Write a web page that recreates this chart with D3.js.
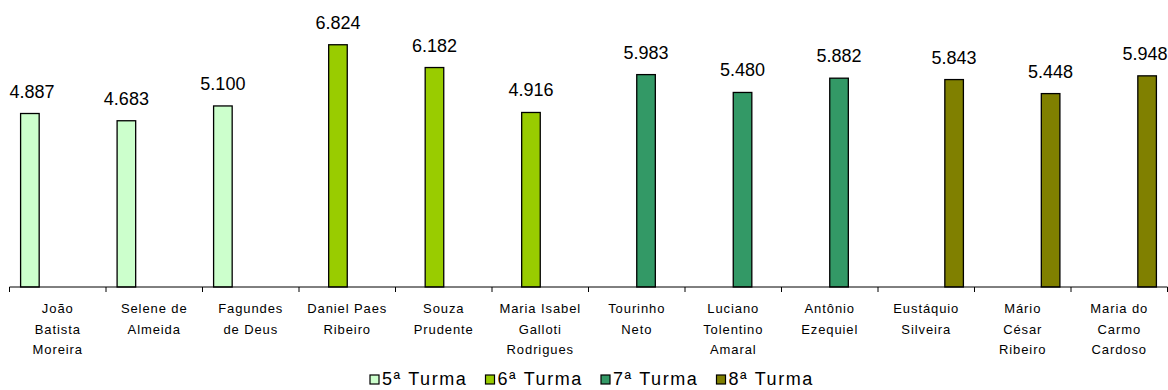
<!DOCTYPE html>
<html>
<head>
<meta charset="utf-8">
<script src="https://cdn.jsdelivr.net/npm/d3@7"></script>
<style>
  html, body { margin: 0; padding: 0; background: #fff; }
  svg { display: block; font-family: "Liberation Sans", Arial, sans-serif; }
</style>
</head>
<body>
<svg id="chart" width="1168" height="390"></svg>
<script>
// Juízes por turma
const categories = [
  ["João", "Batista", "Moreira"],
  ["Selene de", "Almeida"],
  ["Fagundes", "de Deus"],
  ["Daniel Paes", "Ribeiro"],
  ["Souza", "Prudente"],
  ["Maria Isabel", "Galloti", "Rodrigues"],
  ["Tourinho", "Neto"],
  ["Luciano", "Tolentino", "Amaral"],
  ["Antônio", "Ezequiel"],
  ["Eustáquio", "Silveira"],
  ["Mário", "César", "Ribeiro"],
  ["Maria do", "Carmo", "Cardoso"]
];
const series = ["5ª Turma", "6ª Turma", "7ª Turma", "8ª Turma"];
const seriesColors = ["#CCFFCC", "#99CC00", "#339966", "#808000"];
const turmaOf = ["5ª Turma", "5ª Turma", "5ª Turma", "6ª Turma", "6ª Turma", "6ª Turma",
                 "7ª Turma", "7ª Turma", "7ª Turma", "8ª Turma", "8ª Turma", "8ª Turma"];
const values = [4887, 4683, 5100, 6824, 6182, 4916, 5983, 5480, 5882, 5843, 5448, 5948];
const yDomain = [0, 7000];

const ptBR = d3.formatLocale({ decimal: ",", thousands: ".", grouping: [3], currency: ["R$", ""] });
const fmt = ptBR.format(",d");

const svg = d3.select("#chart");
const plot = { left: 9.5, right: 1167.5, top: 38.5, bottom: 287 };

const keys = categories.map(c => c.join(" "));
const x0 = d3.scaleBand().domain(keys).range([plot.left, plot.right]).padding(0);
const bw = x0.bandwidth();
const x1 = d3.scaleBand().domain(series).range([bw * 0.115, bw * 0.885]).padding(0);
const y = d3.scaleLinear().domain(yDomain).range([plot.bottom, plot.top]);
const color = d3.scaleOrdinal().domain(series).range(seriesColors);

const rows = keys.map((k, i) => ({ key: k, lines: categories[i], turma: turmaOf[i], value: values[i] }));

// Bars
svg.append("g").selectAll("rect").data(rows).join("rect")
  .attr("x", d => x0(d.key) + x1(d.turma))
  .attr("y", d => y(d.value))
  .attr("width", x1.bandwidth())
  .attr("height", d => y(0) - y(d.value))
  .attr("fill", d => color(d.turma))
  .attr("stroke", "#000")
  .attr("stroke-width", 1.3);

// Value labels, kept inside the plot area
const labels = svg.append("g")
  .attr("font-size", 18)
  .attr("fill", "#000");
labels.selectAll("text").data(rows).join("text")
  .attr("text-anchor", "middle")
  .attr("y", d => y(d.value) - 16)
  .text(d => fmt(d.value))
  .each(function(d) {
    const cx = x0(d.key) + x1(d.turma) + x1.bandwidth() / 2;
    const w = this.getComputedTextLength();
    let x = cx;
    if (x - w / 2 < plot.left) x = plot.left + w / 2;
    if (x + w / 2 > plot.right) x = plot.right - w / 2;
    d3.select(this).attr("x", x);
  });

// Category axis
const xAxis = svg.append("g")
  .attr("transform", `translate(0,${plot.bottom})`)
  .call(d3.axisBottom(x0).tickSize(0).tickFormat(""));
xAxis.select(".domain").attr("stroke", "#000").attr("d", `M${plot.left},0H${plot.right}`);

const bounds = keys.map(k => x0(k)).concat([plot.right]);
xAxis.selectAll(".sep").data(bounds).join("line")
  .attr("class", "sep")
  .attr("x1", d => d).attr("x2", d => d)
  .attr("y1", 0).attr("y2", 5)
  .attr("stroke", "#000");

const catLabels = svg.append("g")
  .attr("font-size", 13)
  .attr("letter-spacing", "0.9px")
  .attr("fill", "#000");
catLabels.selectAll("text").data(rows).join("text")
  .attr("text-anchor", "middle")
  .attr("transform", d => `translate(${x0(d.key) + bw / 2},313)`)
  .selectAll("tspan").data(d => d.lines).join("tspan")
  .attr("x", 0)
  .attr("y", (d, i) => i * 20.5)
  .text(d => d);

// Legend
const legend = svg.append("g").attr("transform", "translate(370,375)");
const item = legend.selectAll("g").data(series).join("g")
  .attr("transform", (d, i) => `translate(${i * 115.5},0)`);
item.append("rect")
  .attr("width", 9).attr("height", 9)
  .attr("fill", d => color(d))
  .attr("stroke", "#000")
  .attr("stroke-width", 1.2);
item.append("text")
  .attr("x", 12)
  .attr("y", 9.5)
  .attr("font-size", 18)
  .attr("letter-spacing", "1.6px")
  .attr("fill", "#000")
  .text(d => d);
</script>
</body>
</html>
